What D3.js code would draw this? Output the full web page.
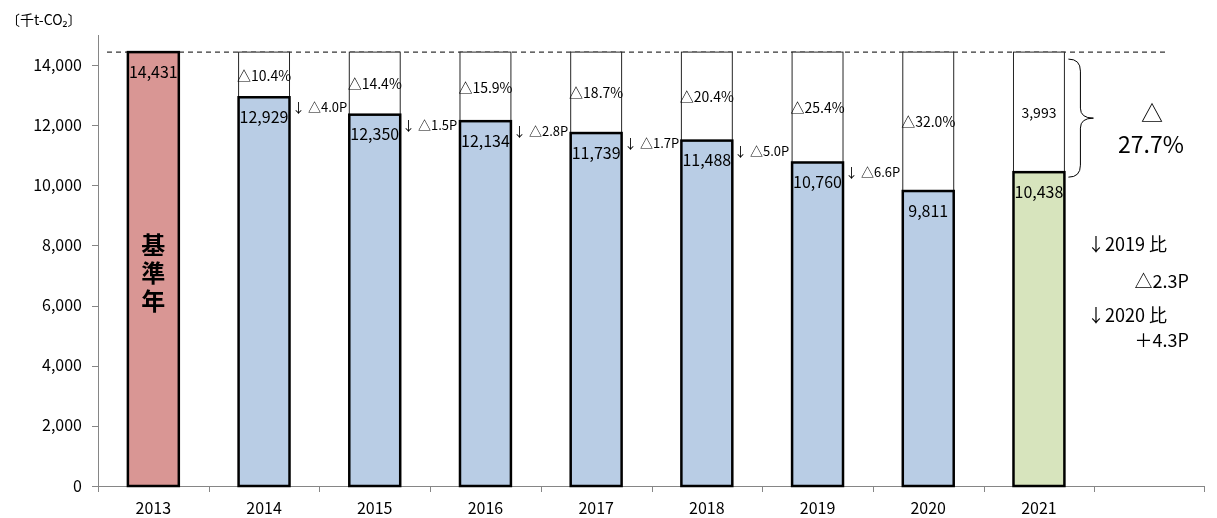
<!DOCTYPE html>
<html><head><meta charset="utf-8">
<script src="https://cdn.jsdelivr.net/npm/d3@7"></script>
<style>
body{margin:0;background:#fff;}
svg{display:block;font-family:"Noto Sans CJK JP","Noto Sans",sans-serif;}
.txt{filter:grayscale(1);}
</style></head>
<body><svg id="c" width="1217" height="518"></svg>
<script>
const categories = ["2013","2014","2015","2016","2017","2018","2019","2020","2021",""];
const emissions = [14431, 12929, 12350, 12134, 11739, 11488, 10760, 9811, 10438];
const baseYear = 14431;
const reductionLabels = ["", "△10.4%", "△14.4%", "△15.9%", "△18.7%", "△20.4%", "△25.4%", "△32.0%", "3,993"];
const changeLabels = ["", "↓ △4.0P", "↓ △1.5P", "↓ △2.8P", "↓ △1.7P", "↓ △5.0P", "↓ △6.6P", "", ""];
const yTicks = [0, 2000, 4000, 6000, 8000, 10000, 12000, 14000];
const barColors = ["#d99694", "#b9cde5", "#b9cde5", "#b9cde5", "#b9cde5", "#b9cde5", "#b9cde5", "#b9cde5", "#d7e4bd"];
const totalLabel = ["△", "27.7%"];
const noteLines = ["↓2019 比", "△2.3P", "↓2020 比", "＋4.3P"];
const baseLabel = "基準年";
const unitLabel = "〔千t-CO₂〕";

const svg = d3.select("#c");
const x = d3.scaleBand().domain(categories).range([98, 1205]).padding(0);
const y = d3.scaleLinear().domain([0, 15000]).range([486, 35]);
const bw = x.bandwidth();
const barW = bw * 0.46;
const bx = i => x(categories[i]) + (bw - barW) / 2;

const gMarks = svg.append("g");
const gText = svg.append("g").attr("class","txt");

// y axis
gMarks.append("line").attr("x1",98.5).attr("x2",98.5).attr("y1",y(15000)).attr("y2",y(0)).attr("stroke","#868686");
yTicks.forEach(t=>{
  gMarks.append("line").attr("x1",92).attr("x2",98).attr("y1",Math.round(y(t))+0.5).attr("y2",Math.round(y(t))+0.5).attr("stroke","#868686");
  gText.append("text").attr("x",82).attr("y",y(t)).attr("dy","0.35em").attr("text-anchor","end").attr("font-size",16).attr("fill","#000").text(d3.format(",")(t));
});
// x axis
gMarks.append("line").attr("x1",98).attr("x2",1205).attr("y1",486.5).attr("y2",486.5).attr("stroke","#868686");
categories.forEach((c,i)=>{
  const xx = Math.round(x(c)) + 0.5;
  gMarks.append("line").attr("x1",xx).attr("x2",xx).attr("y1",486).attr("y2",492).attr("stroke","#868686");
  gText.append("text").attr("x",x(c)+bw/2).attr("y",508).attr("dy","0.35em").attr("text-anchor","middle").attr("font-size",16).text(c);
});
gMarks.append("line").attr("x1",1204.5).attr("x2",1204.5).attr("y1",486).attr("y2",492).attr("stroke","#868686");

// unit label
gText.append("text").attr("x",6).attr("y",20).attr("dy","0.35em").attr("font-size",14).text(unitLabel);

// dashed baseline
gMarks.append("line").attr("x1",107).attr("x2",1165).attr("y1",y(baseYear)).attr("y2",y(baseYear))
  .attr("stroke","#000").attr("stroke-width",1).attr("stroke-dasharray","5,4");

// white reduction segments
emissions.forEach((v,i)=>{
  if(i===0) return;
  gMarks.append("rect").attr("x",bx(i)).attr("y",y(baseYear)).attr("width",barW).attr("height",y(v)-y(baseYear))
    .attr("fill","#fff").attr("stroke","#262626").attr("stroke-width",1);
});
// colored bars
emissions.forEach((v,i)=>{
  gMarks.append("rect").attr("x",bx(i)).attr("y",y(v)).attr("width",barW).attr("height",y(0)-y(v))
    .attr("fill",barColors[i]).attr("stroke","#000").attr("stroke-width",2.5);
});
// value labels
emissions.forEach((v,i)=>{
  gText.append("text").attr("x",bx(i)+barW/2).attr("y",y(v)+20).attr("dy","0.35em").attr("text-anchor","middle")
    .attr("font-size",16).text(d3.format(",")(v));
});
// reduction labels
reductionLabels.forEach((t,i)=>{
  if(!t) return;
  const mid = (y(baseYear)+y(emissions[i]))/2 + 1;
  gText.append("text").attr("x",bx(i)+barW/2).attr("y",mid).attr("dy","0.35em").attr("text-anchor","middle")
    .attr("font-size",14).text(t);
});
// change labels
changeLabels.forEach((t,i)=>{
  if(!t) return;
  gText.append("text").attr("x",Math.round(bx(i)+barW+2)).attr("y",Math.round(y(emissions[i])+10)).attr("dy","0.35em")
    .attr("font-size",13).text(t);
});
// base year vertical label
gText.append("text").attr("x",bx(0)+barW/2).attr("y",233)
  .attr("style","writing-mode:vertical-rl;letter-spacing:4px")
  .attr("font-size",24).attr("font-weight","bold").text(baseLabel);
// brace
const i21 = 8;
const bxr = bx(i21)+barW+4;
const yt = y(baseYear)+7, yb = y(emissions[i21])+5, ym = (yt+yb)/2;
const bxm = bxr + 12, tip = bxr + 25;
const path = `M${bxr},${yt} Q${bxm},${yt} ${bxm},${yt+12} L${bxm},${ym-10} Q${bxm},${ym} ${tip},${ym} Q${bxm},${ym} ${bxm},${ym+10} L${bxm},${yb-12} Q${bxm},${yb} ${bxr},${yb}`;
gMarks.append("path").attr("d",path).attr("fill","none").attr("stroke","#000").attr("stroke-width",1);
gText.append("text").attr("x",1152).attr("y",113).attr("dy","0.35em").attr("text-anchor","middle").attr("font-size",22).text(totalLabel[0]);
gText.append("text").attr("x",1151).attr("y",145).attr("dy","0.35em").attr("text-anchor","middle").attr("font-size",23).text(totalLabel[1]);
// notes
gText.append("text").attr("x",1087).attr("y",245).attr("dy","0.35em").attr("font-size",18).text(noteLines[0]);
gText.append("text").attr("x",1189).attr("y",282).attr("dy","0.35em").attr("text-anchor","end").attr("font-size",18).text(noteLines[1]);
gText.append("text").attr("x",1087).attr("y",316).attr("dy","0.35em").attr("font-size",18).text(noteLines[2]);
gText.append("text").attr("x",1189).attr("y",341).attr("dy","0.35em").attr("text-anchor","end").attr("font-size",18).text(noteLines[3]);
</script></body></html>
